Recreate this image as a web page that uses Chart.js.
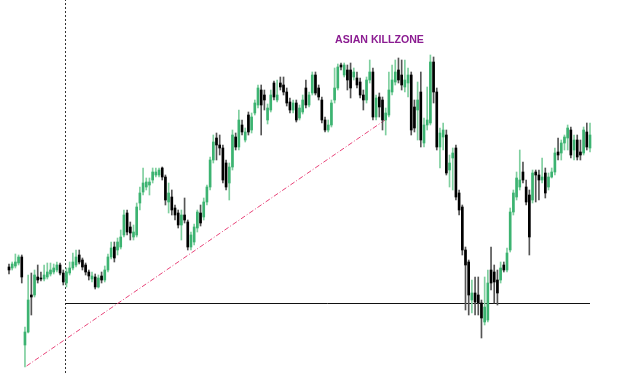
<!DOCTYPE html>
<html>
<head>
<meta charset="utf-8">
<script src="https://cdn.jsdelivr.net/npm/chart.js@4.4.0/dist/chart.umd.min.js"></script>
<style>
html,body{margin:0;padding:0;background:#fff;}
#wrap{position:relative;width:625px;height:373px;overflow:hidden;}
#label{position:absolute;left:335px;top:34px;font-family:"Liberation Sans",Arial,sans-serif;font-weight:bold;font-size:10.6px;line-height:10.6px;color:#8b1c91;white-space:nowrap;}
</style>
</head>
<body>
<div id="wrap"><canvas id="c"></canvas><div id="label">ASIAN KILLZONE</div></div>
<script>
// OHLC values (arbitrary price units)
const opens = [
106,105,107,110,116,28,41,78,78,96,
95,94,96,99,101,103,108,100,90,100,
105,108,118,113,108,101,94,96,86,97,
93,103,116,126,123,126,138,160,146,136,
138,170,181,186,188,193,198,198,205,196,
171,176,165,160,148,158,151,126,131,145,
160,156,171,186,213,235,228,225,210,190,
206,236,226,248,233,258,243,260,268,283,
278,253,263,290,273,290,288,281,271,263,
270,255,261,285,268,280,298,285,273,253,
243,248,273,285,308,298,303,303,296,295,
291,278,273,293,301,256,276,273,253,258,
281,291,303,298,286,290,298,266,263,281,
230,248,250,311,281,226,236,238,203,215,
225,180,166,123,111,73,80,78,70,51,
53,103,101,93,93,108,103,123,161,176,
186,201,186,178,173,201,198,193,200,186,
196,201,221,220,230,235,243,223,233,221,
220,241,225];
const highs = [
109,111,119,118,118,46,98,100,103,108,
101,108,110,110,109,111,110,103,105,111,
120,123,123,115,110,103,101,99,98,101,
107,119,131,131,135,143,163,163,151,148,
170,186,205,195,195,205,205,205,206,198,
190,183,168,163,163,175,153,141,149,163,
168,175,188,216,238,240,238,228,213,210,
243,240,263,253,245,261,260,273,288,288,
283,269,283,292,293,296,296,285,275,273,
273,268,278,293,281,301,301,288,276,256,
253,273,305,309,310,310,308,310,305,301,
295,283,296,313,305,278,280,276,265,301,
308,313,315,313,313,305,301,273,291,301,
255,286,318,316,285,245,250,243,218,225,
228,183,168,126,113,93,96,96,73,96,
103,126,108,103,111,111,125,165,183,201,
223,211,193,183,203,203,203,215,205,200,
205,225,235,233,238,248,246,238,238,233,
246,250,250];
const lows = [
99,103,105,108,90,6,40,58,76,90,
92,92,94,97,99,101,98,88,86,98,
103,106,109,103,98,93,91,84,85,90,
91,101,114,111,118,124,136,138,133,133,
136,163,178,183,178,190,196,196,193,168,
160,158,153,145,133,150,123,123,128,141,
147,153,168,183,210,213,218,190,183,173,
203,223,223,238,231,238,240,258,265,238,
263,249,261,273,271,283,278,267,260,260,
251,253,259,265,266,278,278,273,250,241,
241,246,270,283,303,296,283,275,293,285,
275,263,270,290,253,253,256,243,238,256,
278,288,290,283,281,276,238,241,233,226,
226,243,248,270,223,205,223,198,186,183,
173,158,118,63,58,60,58,58,35,48,
51,83,70,68,90,101,101,121,158,173,
183,190,168,118,170,171,173,190,175,183,
195,198,213,213,223,223,215,213,213,213,
218,223,221];
const closes = [
103,109,111,116,96,41,73,76,98,93,
94,98,101,103,105,108,100,91,101,105,
111,116,111,106,101,97,97,86,95,93,
103,116,125,115,131,136,158,141,140,141,
166,180,190,191,191,201,201,203,196,173,
180,163,158,148,158,153,126,138,146,161,
150,171,186,213,231,228,225,193,186,206,
238,226,253,241,241,241,256,270,285,268,
273,265,278,276,278,286,281,270,263,270,
253,265,273,268,278,298,280,276,253,243,
248,270,285,306,306,308,293,285,301,288,
278,273,293,301,256,275,266,253,260,283,
293,301,293,288,293,298,243,245,273,233,
248,253,311,281,226,240,243,200,210,220,
176,163,123,108,78,80,71,70,55,66,
90,90,91,80,105,103,120,161,180,195,
193,193,171,136,200,198,193,196,180,196,
201,220,218,230,236,245,218,233,216,218,
243,226,238];

// Annotations (candle index / price)
const sessionStartIndex = [17.7];
const supportLevel = [69.5];
const trendLineIndex = [5.5, 117.8];
const trendLinePrice = [7, 253];
const priceRange = [0, 373];

const lastIndex = opens.length - 1;
const isUp = i => closes[i] >= opens[i];
const UP = '#3cb371', DOWN = '#000000';
const UP_WICK = '#7fcf9f', DOWN_WICK = '#555555';

const wickData = opens.map((_, i) => ({x: i, y: [lows[i], highs[i]]}));
const bodyData = opens.map((_, i) => ({x: i, y: [Math.min(opens[i], closes[i]), Math.max(opens[i], closes[i])]}));

new Chart(document.getElementById('c'), {
  type: 'bar',
  data: {
    datasets: [
      {
        type: 'line',
        data: [{x: sessionStartIndex[0], y: priceRange[0]}, {x: sessionStartIndex[0], y: priceRange[1]}],
        borderColor: '#333',
        borderWidth: 1,
        borderDash: [2, 2],
        pointRadius: 0,
        order: 5,
        clip: false
      },
      {
        type: 'line',
        data: [{x: sessionStartIndex[0], y: supportLevel[0]}, {x: lastIndex, y: supportLevel[0]}],
        borderColor: '#111',
        borderWidth: 1,
        pointRadius: 0,
        order: 4
      },
      {
        type: 'line',
        data: [{x: trendLineIndex[0], y: trendLinePrice[0]}, {x: trendLineIndex[1], y: trendLinePrice[1]}],
        borderColor: '#e8457a',
        borderWidth: 1,
        borderDash: [5, 2, 1, 2],
        pointRadius: 0,
        order: 3
      },
      {
        data: wickData,
        backgroundColor: ctx => isUp(ctx.dataIndex) ? UP_WICK : DOWN_WICK,
        barThickness: 1,
        grouped: false,
        order: 2,
        clip: false
      },
      {
        data: bodyData,
        backgroundColor: ctx => isUp(ctx.dataIndex) ? UP : DOWN,
        barThickness: 2,
        minBarLength: 1,
        grouped: false,
        order: 1,
        clip: false
      }
    ]
  },
  options: {
    responsive: true,
    maintainAspectRatio: false,
    animation: false,
    layout: {padding: {left: 9, right: 35, top: 0, bottom: 0}},
    plugins: {legend: {display: false}, tooltip: {enabled: false}},
    scales: {
      x: {type: 'linear', min: 0, max: lastIndex, display: false, offset: false},
      y: {min: priceRange[0], max: priceRange[1], display: false}
    }
  }
});
</script>
</body>
</html>
